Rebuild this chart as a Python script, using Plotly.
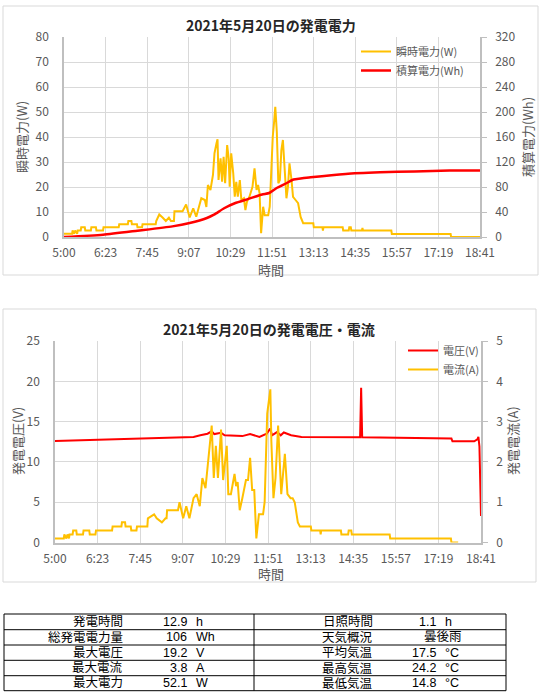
"""2021年5月20日の発電記録

上段: 瞬時電力と積算電力, 下段: 発電電圧と電流, 最下部: 日次サマリー表
"""

import pandas as pd
import plotly.graph_objects as go

_GRID = "#d9d9d9"
_AXIS = "#bfbfbf"
_TEXT = "#595959"
_TITLE = "#262626"
_FONT = "Noto Sans CJK JP, Noto Sans, sans-serif"
_TABLE_FONT = "Liberation Sans, Noto Sans CJK JP, sans-serif"
_YELLOW = "#ffc000"
_RED = "#ff0000"

W, H = 544, 699
DAY = "2021-05-20 "

# x軸目盛 (5:00〜18:41 を10等分)
tick_labels = ["5:00", "6:23", "7:45", "9:07", "10:29", "11:51",
               "13:13", "14:35", "15:57", "17:19", "18:41"]

# 瞬時電力 (W)
power_time = [
    "05:00", "05:16", "05:17", "05:20", "05:22", "05:26", "05:27", "05:33", "05:34", "05:41",
    "05:42", "05:53", "05:54", "06:03", "06:04", "06:17", "06:18", "06:48", "06:49", "07:06",
    "07:07", "07:13", "07:14", "07:24", "07:25", "07:34", "07:35", "08:01", "08:02", "08:08",
    "08:15", "08:21", "08:27", "08:31", "08:37", "08:38", "08:54", "09:01", "09:08", "09:15",
    "09:21", "09:31", "09:38", "09:41", "09:44", "09:49", "09:54", "09:57", "10:01", "10:03",
    "10:05", "10:09", "10:12", "10:15", "10:18", "10:22", "10:25", "10:27", "10:30", "10:34",
    "10:37", "10:40", "10:43", "10:47", "10:50", "10:55", "10:58", "11:01", "11:06", "11:12",
    "11:16", "11:20", "11:23", "11:26", "11:29", "11:33", "11:36", "11:43", "11:46", "11:49",
    "11:52", "11:55", "11:57", "12:00", "12:03", "12:06", "12:09", "12:12", "12:15", "12:19",
    "12:22", "12:25", "12:29", "12:32", "12:37", "12:42", "12:47", "12:52", "13:12", "13:13",
    "13:30", "13:31", "13:32", "14:10", "14:11", "14:22", "14:23", "14:26", "14:27", "14:48",
    "14:49", "14:50", "15:46", "15:47", "17:43", "17:44", "18:41",
]
power_w = [
    1.3, 1.3, 2.6, 1.3, 2.6, 1.3, 2.6, 2.6, 3.9, 3.9,
    2.6, 2.6, 3.9, 3.9, 2.6, 2.6, 3.9, 3.9, 5.1, 5.1,
    6.4, 6.4, 5.1, 5.1, 3.9, 3.9, 5.1, 5.1, 6.4, 9.0,
    7.7, 6.4, 7.7, 6.4, 6.4, 10.3, 10.3, 13.0, 7.8, 11.5,
    8.1, 15.5, 14.8, 12.0, 20.8, 18.8, 24.8, 33.5, 37.5, 39.1,
    22.8, 31.5, 22.1, 32.1, 21.5, 36.8, 31.5, 20.1, 33.5, 25.5,
    16.1, 22.1, 16.1, 22.8, 14.8, 15.5, 10.8, 14.1, 16.1, 20.1,
    27.5, 18.8, 20.8, 17.5, 1.5, 12.1, 8.7, 8.7, 12.1, 26.8,
    40.1, 46.8, 52.1, 42.1, 21.5, 22.8, 34.8, 38.8, 29.5, 15.5,
    20.1, 29.5, 22.8, 16.1, 14.8, 13.5, 8.0, 5.5, 5.5, 3.9,
    3.9, 2.6, 3.9, 3.9, 2.6, 2.6, 3.9, 3.9, 2.6, 2.6,
    3.6, 2.6, 2.6, 1.2, 1.2, 0.0, 0.0,
]

# 積算電力 (Wh)
energy_time = ["05:00", "06:17", "07:25", "08:34", "09:08", "09:42", "09:56", "10:16",
               "10:37", "11:04", "11:31", "11:45", "11:59", "12:19", "12:33", "12:47",
               "13:07", "14:16", "15:24", "16:32", "17:41", "18:41"]
energy_wh = [0, 3.7, 10.1, 17.0, 22.4, 30.4, 35.7, 46.0,
             54.0, 61.0, 68.0, 70.4, 78.0, 86.0, 92.0, 93.5,
             95.5, 101.0, 103.5, 105.0, 106.3, 106.4]

# 発電電圧 (V)
volt_time = ["05:00", "07:39", "08:46", "09:27", "09:40", "09:54", "10:02", "10:07",
             "10:20", "10:27", "11:01", "11:16", "11:34", "11:48", "11:55", "11:58",
             "12:08", "12:15", "12:21", "12:35", "12:55", "14:22", "14:48", "14:50",
             "14:52", "17:44", "17:46", "18:28", "18:34", "18:36", "18:38", "18:41"]
volt_v = [12.58, 12.9, 13.1, 13.1, 13.3, 13.5, 13.8, 13.45,
          13.6, 13.3, 13.2, 13.45, 13.1, 13.5, 14.15, 13.3,
          13.7, 13.3, 13.65, 13.3, 13.1, 13.08, 13.05, 19.2,
          13.05, 12.9, 12.55, 12.55, 12.8, 13.1, 11.9, 3.3]

# 電流 (A)
amp_time = [
    "05:00", "05:17", "05:18", "05:22", "05:24", "05:27", "05:28", "05:34", "05:35", "05:41",
    "05:42", "05:54", "05:55", "06:06", "06:07", "06:18", "06:19", "06:50", "06:51", "07:08",
    "07:09", "07:15", "07:16", "07:26", "07:27", "07:37", "07:38", "07:58", "07:59", "08:11",
    "08:16", "08:26", "08:33", "08:35", "08:36", "08:57", "09:00", "09:07", "09:13", "09:19",
    "09:27", "09:33", "09:39", "09:44", "09:50", "09:54", "09:58", "10:02", "10:06", "10:10",
    "10:14", "10:20", "10:24", "10:31", "10:34", "10:39", "10:46", "10:49", "10:52", "10:56",
    "11:01", "11:08", "11:12", "11:16", "11:20", "11:24", "11:28", "11:33", "11:41", "11:44",
    "11:49", "11:55", "11:57", "12:01", "12:05", "12:10", "12:16", "12:23", "12:28", "12:34",
    "12:38", "12:42", "12:48", "12:52", "13:13", "13:14", "13:31", "13:32", "13:33", "14:11",
    "14:12", "14:25", "14:26", "14:31", "14:32", "15:45", "15:46", "17:43", "17:44", "17:57",
]
amp_a = [
    0.1, 0.1, 0.2, 0.1, 0.2, 0.1, 0.2, 0.2, 0.3, 0.3,
    0.2, 0.2, 0.3, 0.3, 0.2, 0.2, 0.3, 0.3, 0.4, 0.4,
    0.5, 0.5, 0.4, 0.4, 0.3, 0.3, 0.4, 0.4, 0.6, 0.7,
    0.6, 0.5, 0.6, 0.6, 0.8, 0.8, 1.0, 0.6, 0.9, 0.6,
    1.1, 1.2, 0.9, 1.6, 1.35, 1.9, 2.5, 2.9, 1.6, 2.4,
    1.6, 2.8, 1.55, 2.4, 1.2, 1.2, 1.7, 1.4, 1.5, 0.8,
    1.1, 1.55, 1.55, 2.1, 1.3, 1.3, 0.1, 0.7, 0.7, 1.0,
    3.2, 3.8, 2.5, 1.1, 1.6, 2.9, 1.2, 2.2, 1.2, 1.1,
    1.1, 1.0, 0.5, 0.4, 0.4, 0.3, 0.3, 0.2, 0.3, 0.3,
    0.2, 0.2, 0.3, 0.3, 0.2, 0.2, 0.1, 0.1, 0.0, 0.0,
]

# サマリー表
left_labels = ["発電時間", "総発電電力量", "最大電圧", "最大電流", "最大電力"]
left_values = ["12.9", "106", "19.2", "3.8", "52.1"]
left_units = ["h", "Wh", "V", "A", "W"]
right_labels = ["日照時間", "天気概況", "平均気温", "最高気温", "最低気温"]
right_values = ["1.1", "曇後雨", "17.5", "24.2", "14.8"]
right_units = ["h", "", "°C", "°C", "°C"]


def px(x):
    return x / W


def py(y):
    return 1 - y / H


def to_dt(times):
    return pd.to_datetime([DAY + t for t in times])


t_start, t_end = pd.Timestamp(DAY + "05:00"), pd.Timestamp(DAY + "18:41")
tick_vals = pd.date_range(t_start, t_end, periods=len(tick_labels))

fig = go.Figure()

fig.add_trace(go.Scatter(
    x=to_dt(power_time), y=power_w, name="瞬時電力(W)", mode="lines",
    line=dict(color=_YELLOW, width=2), xaxis="x", yaxis="y", legend="legend",
))
fig.add_trace(go.Scatter(
    x=to_dt(energy_time), y=energy_wh, name="積算電力(Wh)", mode="lines",
    line=dict(color=_RED, width=2.5, shape="spline", smoothing=0.6),
    xaxis="x", yaxis="y2", legend="legend",
))
fig.add_trace(go.Scatter(
    x=to_dt(volt_time), y=volt_v, name="電圧(V)", mode="lines",
    line=dict(color=_RED, width=2), xaxis="x2", yaxis="y3", legend="legend2",
))
fig.add_trace(go.Scatter(
    x=to_dt(amp_time), y=amp_a, name="電流(A)", mode="lines",
    line=dict(color=_YELLOW, width=2), xaxis="x2", yaxis="y4", legend="legend2",
))

tickfont = dict(size=12, color=_TEXT)
titlefont = dict(size=13, color=_TEXT)


def x_axis(dom, anchor):
    return dict(
        domain=dom, anchor=anchor, range=[t_start, t_end], automargin=False,
        tickvals=tick_vals, ticktext=tick_labels, tickfont=tickfont,
        showgrid=True, gridcolor=_GRID, gridwidth=1,
        showline=True, linecolor=_AXIS, linewidth=1.5,
        ticklabelstandoff=4,
    )


def y_left(dom, anchor, rng, dtick):
    return dict(
        domain=dom, anchor=anchor, range=rng, dtick=dtick, tickfont=tickfont,
        automargin=False,
        showgrid=True, gridcolor=_GRID, gridwidth=1, zeroline=False,
        showline=True, linecolor=_AXIS, linewidth=1.5,
        ticklabelstandoff=11,
    )


def y_right(overlay, anchor, rng, dtick):
    return dict(
        overlaying=overlay, anchor=anchor, side="right", range=rng, dtick=dtick,
        tickfont=tickfont, showgrid=False, zeroline=False, automargin=False,
        showline=True, linecolor=_AXIS, linewidth=1.5,
        ticks="outside", ticklen=5, tickcolor=_AXIS, ticklabelstandoff=6,
    )


c1_x, c1_y = [px(64), px(480)], [py(237), py(37)]
c2_x, c2_y = [px(55), px(481)], [py(542.5), py(341)]

legend_style = dict(
    xanchor="left", yanchor="top", bgcolor="rgba(0,0,0,0)",
    font=dict(size=11, color=_TEXT), itemwidth=30, tracegroupgap=0,
)

fig.update_layout(
    width=W, height=H, autosize=False,
    margin=dict(l=0, r=0, t=0, b=0, autoexpand=False),
    paper_bgcolor="white", plot_bgcolor="white",
    font=dict(family=_FONT, color=_TEXT),
    xaxis=x_axis(c1_x, "y"),
    yaxis=y_left(c1_y, "x", [0, 80], 10),
    yaxis2=y_right("y", "x", [0, 320], 40),
    xaxis2=x_axis(c2_x, "y3"),
    yaxis3=y_left(c2_y, "x2", [0, 25], 5),
    yaxis4=y_right("y3", "x2", [0, 5], 1),
    legend=dict(x=px(356), y=py(37), **legend_style),
    legend2=dict(x=px(403), y=py(336), **legend_style),
    showlegend=True,
)


def note(text, x, y, font, angle=0, xanchor="center"):
    fig.add_annotation(text=text, xref="paper", yref="paper", x=px(x), y=py(y),
                       xanchor=xanchor, yanchor="middle", textangle=angle,
                       showarrow=False, font=font)


# グラフ枠・タイトル・軸タイトル
for x0, y0, x1, y1 in [(3, 6, 538, 275), (3, 309, 536, 582)]:
    fig.add_shape(type="rect", xref="paper", yref="paper",
                  x0=px(x0), y0=py(y0), x1=px(x1), y1=py(y1),
                  line=dict(color=_GRID, width=1))

title_font = dict(size=14, color=_TITLE)
note("<b>2021年5月20日の発電電力</b>", 271, 25, title_font)
note("<b>2021年5月20日の発電電圧・電流</b>", 269, 329, title_font)

note("瞬時電力(W)", 21, 137, titlefont, angle=-90)
note("積算電力(Wh)", 527, 137, titlefont, angle=-90)
note("時間", 271, 269, titlefont)
note("発電電圧(V)", 17, 441, titlefont, angle=-90)
note("発電電流(A)", 512, 441, titlefont, angle=-90)
note("時間", 271, 573, titlefont)

# サマリー表
row_lines = [614, 629.7, 645, 660.3, 675.7, 690.7]
col_lines = [4, 254, 506]
line = dict(color="black", width=1)
for ry in row_lines:
    fig.add_shape(type="line", xref="paper", yref="paper",
                  x0=px(col_lines[0]), x1=px(col_lines[-1]), y0=py(ry), y1=py(ry), line=line)
for cx in col_lines:
    fig.add_shape(type="line", xref="paper", yref="paper",
                  x0=px(cx), x1=px(cx), y0=py(row_lines[0]), y1=py(row_lines[-1]), line=line)

cell_font = dict(size=12.5, color="black", family=_TABLE_FONT)

for i in range(len(left_labels)):
    cy = (row_lines[i] + row_lines[i + 1]) / 2
    note(left_labels[i], 125, cy, cell_font, xanchor="right")
    note(left_values[i], 189, cy, cell_font, xanchor="right")
    note(left_units[i], 194, cy, cell_font, xanchor="left")
    note(right_labels[i], 375, cy, cell_font, xanchor="right")
    if right_units[i]:
        note(right_values[i], 438, cy, cell_font, xanchor="right")
        note(right_units[i], 443, cy, cell_font, xanchor="left")
    else:
        note(right_values[i], 443, cy, cell_font)

# ブラウザ既定の body 余白を消して図を左上に揃える
fig.write_html(
    "out.html",
    config={"displayModeBar": False},
    post_script="document.body.style.margin = '0';",
)
